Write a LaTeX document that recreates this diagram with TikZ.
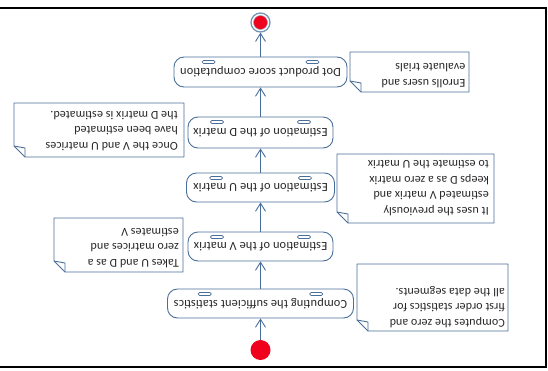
\documentclass[tikz,border=0pt]{standalone}
\usepackage{fontspec}
\setmainfont{Carlito}
\newfontfamily\boxfont[LetterSpace=1.5]{Carlito}
\newfontfamily\notefont[LetterSpace=1]{Carlito}
\usetikzlibrary{arrows.meta,calc}
\definecolor{edge}{HTML}{4A6E9A}
\definecolor{dotred}{HTML}{F0001C}
\definecolor{ink}{HTML}{262626}
\begin{document}
\begin{tikzpicture}[x=1pt,y=-1pt,
  act/.style={draw=edge, line width=0.9pt, rounded corners=10pt, fill=white, rotate=180,
    inner sep=0pt, font=\boxfont\fontsize{12.3}{14}\selectfont, text=ink},
  pill/.style={draw=edge, line width=0.7pt, fill=white, rounded corners=1.4pt},
  notebox/.style={draw=edge, line width=0.9pt, line join=round},
  notetext/.style={rotate=180, align=left, anchor=north west, inner sep=0pt,
    font=\notefont\fontsize{12}{15.5}\selectfont, text=ink},
  flow/.style={draw=edge, line width=0.9pt, -{Straight Barb[length=8pt,width=10pt,line width=0.9pt]}},
  frame/.style={draw=black, line width=1.6pt}
]
\useasboundingbox (0,0) rectangle (548,370);
% frame
\draw[frame] (0,8) -- (546,8) -- (546,367) -- (0,367);

% activities
\foreach \n/\cx/\cy/\w/\h/\t in {
  dot/260.5/72/173/30/{Dot product score computation},
  dmat/260.5/132.5/145/31/{Estimation of the D matrix},
  umat/260.5/187.5/148/29/{Estimation of the U matrix},
  vmat/260.5/246.5/145/29/{Estimation of the V matrix},
  comp/260.5/303.5/186/29/{Computing the sufficient statistics}}
{
  \node[act, minimum width=\w pt, minimum height=\h pt] (\n) at (\cx,\cy) {\t};
  \foreach \f in {-0.3,0.3}
    \draw[pill] ({\cx+\f*\w-6.5},{\cy-\h/2+3.5}) rectangle ({\cx+\f*\w+6.5},{\cy-\h/2+6.5});
}

% start and final
\node[circle, fill=dotred, minimum size=20pt, inner sep=0pt] (start) at (260.5,350) {};
\node[circle, draw=edge!75, line width=1.3pt, fill=white, minimum size=19pt, inner sep=0pt] (final) at (260.5,22.5) {};
\node[circle, draw=edge!60, line width=0.5pt, fill=dotred, minimum size=14pt, inner sep=0pt] (finalin) at (final.center) {};

% flows
\draw[flow] (start) -- (comp);
\draw[flow] (comp) -- (vmat);
\draw[flow] (vmat) -- (umat);
\draw[flow] (umat) -- (dmat);
\draw[flow] (dmat) -- (dot);
\draw[flow] (dot) -- (final);

% notes: x1/y1/x2/y2/inset/gap/text
\foreach \k/\xa/\ya/\xb/\yb/\ins/\gap/\t in {
  n1/350/52/469/92/3.5/4/{Enrolls users and\\evaluate trials},
  n2/14/103/184/157/6/6/{Once the V and U matrices\\have been estimated\\the D matrix is estimated.},
  n3/337/154/494/223/5/7/{It uses the previously\\estimated V matrix and\\keeps D as a zero matrix\\to estimate the U matrix},
  n4/54/218/183/272/4/4/{Takes U and D as a\\zero matrices and\\estimates V},
  n5/357/264/508/331/3/3/{Computes the zero and\\first order statistics for\\all the data segments.}}
{
  \draw[notebox, fill=white] (\xa,\ya) -- (\xb,\ya) -- (\xb,\yb) -- ({\xa+11},\yb) -- (\xa,{\yb-11}) -- cycle;
  \draw[notebox] (\xa,{\yb-11}) -- ({\xa+11},{\yb-9}) -- ({\xa+11},\yb);
  \node[notetext] (\k) at ({\xb-\ins},{\yb-\gap}) {\t};
}
\end{tikzpicture}
\end{document}
